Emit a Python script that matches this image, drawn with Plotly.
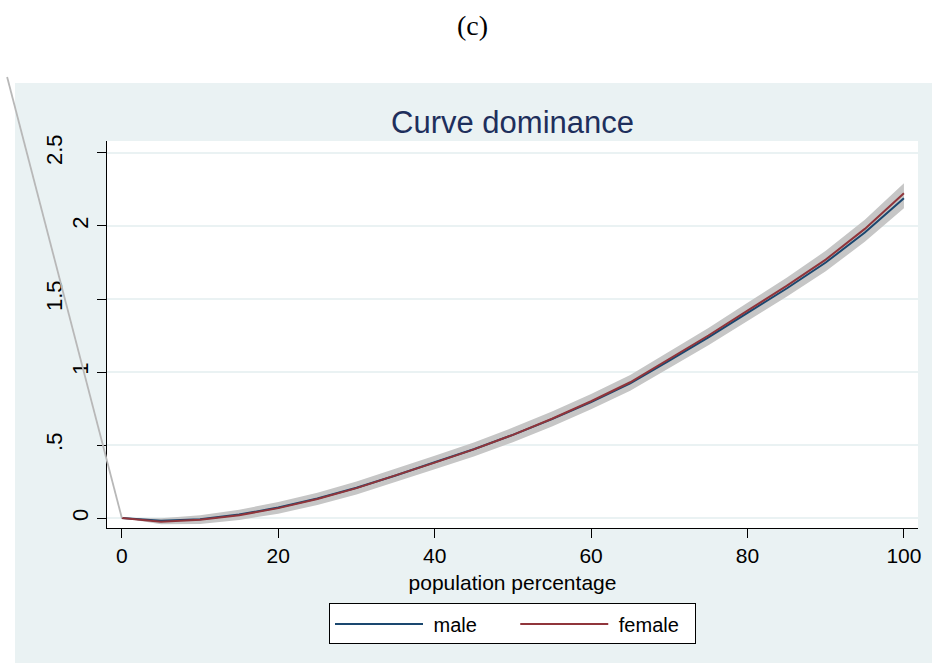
import plotly.graph_objects as go

# ---- data ----
pop_pct = [0, 5, 10, 15, 20, 25, 30, 35, 40, 45, 50, 55, 60, 65, 70, 75, 80, 85, 90, 95, 100]
male = [0, -0.018, -0.008, 0.024, 0.072, 0.134, 0.208, 0.292, 0.382, 0.471, 0.570,
        0.677, 0.795, 0.922, 1.078, 1.237, 1.405, 1.572, 1.750, 1.955, 2.190]
female = [0, -0.026, -0.012, 0.020, 0.068, 0.130, 0.205, 0.290, 0.380, 0.470, 0.570,
          0.680, 0.800, 0.930, 1.090, 1.250, 1.420, 1.590, 1.770, 1.980, 2.225]
band_upper = [0, -0.002, 0.020, 0.057, 0.110, 0.174, 0.250, 0.336, 0.427, 0.518, 0.620,
              0.729, 0.849, 0.980, 1.140, 1.302, 1.474, 1.646, 1.830, 2.042, 2.292]
band_lower = [0, -0.042, -0.040, -0.013, 0.030, 0.090, 0.162, 0.246, 0.335, 0.422, 0.520,
              0.627, 0.745, 0.872, 1.028, 1.184, 1.350, 1.516, 1.690, 1.892, 2.122]
# stray band segment leaving the plot at the top-left (start, end) in data units
stray_x = [0, -14.67]
stray_y = [0, 3.02]

series_names = ["male", "female"]
x_ticks = [0, 20, 40, 60, 80, 100]
y_ticks_a = [0, 1, 2]
y_text_a = ["0", "1", "2"]
y_ticks_b = [0.5, 1.5, 2.5]
y_text_b = [".5", "1.5", "2.5"]

XR = [-1.9, 101.8]
YR = [-0.068, 2.582]

FONT = "Liberation Sans, Arial, sans-serif"
BG = "#eaf2f3"
MALE_C = "#1a476f"
FEMALE_C = "#90353b"
BAND_C = "#c6c6c6"
NB = "\u00a0"


def to_paper_x(v):
    return (v - XR[0]) / (XR[1] - XR[0])


def to_paper_y(v):
    return (v - YR[0]) / (YR[1] - YR[0])


fig = go.Figure()
fig.add_trace(go.Scatter(x=pop_pct, y=band_lower, mode="lines", line=dict(width=0, color=BAND_C),
                         showlegend=False, hoverinfo="skip"))
fig.add_trace(go.Scatter(x=pop_pct, y=band_upper, mode="lines", line=dict(width=0, color=BAND_C),
                         fill="tonexty", fillcolor=BAND_C, showlegend=False, hoverinfo="skip"))
fig.add_trace(go.Scatter(x=pop_pct, y=male, mode="lines",
                         name=NB + series_names[0] + NB * 6,
                         line=dict(color=MALE_C, width=2)))
fig.add_trace(go.Scatter(x=pop_pct, y=female, mode="lines",
                         name=NB + series_names[1] + NB * 2,
                         line=dict(color=FEMALE_C, width=2)))
# invisible carrier so the secondary (label-only) y axis is drawn
fig.add_trace(go.Scatter(x=pop_pct, y=male, mode="lines", yaxis="y2", opacity=0,
                         line=dict(width=0), showlegend=False, hoverinfo="skip"))

shapes = [
    dict(type="rect", xref="paper", yref="paper", x0=-0.1134, x1=1.02, y0=-0.36, y1=1.15,
         fillcolor=BG, line=dict(width=0), layer="below"),
    dict(type="rect", xref="x domain", yref="y domain", x0=0, x1=1, y0=0, y1=1,
         fillcolor="white", line=dict(width=0), layer="below"),
    dict(type="line", xref="paper", yref="paper",
         x0=to_paper_x(stray_x[0]), y0=to_paper_y(stray_y[0]),
         x1=to_paper_x(stray_x[1]), y1=to_paper_y(stray_y[1]),
         line=dict(color="#b8b8b8", width=1.8), layer="above"),
]

fig.update_layout(
    width=932, height=663,
    margin=dict(l=107, r=14, t=141, b=135),
    paper_bgcolor="white",
    plot_bgcolor="white",
    font=dict(family=FONT, size=20, color="black"),
    title=dict(text="Curve dominance", x=(107 + 918) / 2 / 932, xanchor="center",
               y=1 - 122 / 663, yanchor="middle",
               font=dict(family=FONT, size=31, color="#1e2f5c")),
    shapes=shapes,
    showlegend=True,
    legend=dict(orientation="h", x=0.5, xanchor="center", y=-0.195, yanchor="top",
                traceorder="normal",
                bgcolor="white", bordercolor="black", borderwidth=1,
                font=dict(family=FONT, size=20), itemwidth=88),
    xaxis=dict(range=XR, tickvals=x_ticks, ticks="outside", ticklen=9, tickcolor="black",
               showline=True, linecolor="black", linewidth=1, showgrid=False, zeroline=False,
               tickfont=dict(size=21),
               title=dict(text="population percentage", font=dict(size=21), standoff=9)),
    yaxis=dict(range=YR, tickvals=y_ticks_a + y_ticks_b, ticktext=y_text_a + ["", "", ""],
               ticks="outside", ticklen=9, tickcolor="black", tickangle=-90,
               showline=True, linecolor="black", linewidth=1,
               showgrid=True, gridcolor=BG, gridwidth=1.5, zeroline=False,
               tickfont=dict(size=22)),
    yaxis2=dict(range=YR, overlaying="y", side="left", anchor="x", tickvals=y_ticks_b,
                ticktext=y_text_b, ticks="", tickangle=-90,
                showline=False, showgrid=False, zeroline=False, tickfont=dict(size=22),
                ticklabelstandoff=40),
    annotations=[dict(text="(c)", xref="paper", yref="paper", x=(472 - 107) / 811,
                      y=(528 - 25) / 387, showarrow=False, xanchor="center", yanchor="middle",
                      font=dict(family="Liberation Serif, Times New Roman, serif", size=28,
                                color="black"))],
)

fig.write_html("out.html", config={"displayModeBar": False},
               post_script="document.body.style.margin='0';document.body.style.padding='0';")
